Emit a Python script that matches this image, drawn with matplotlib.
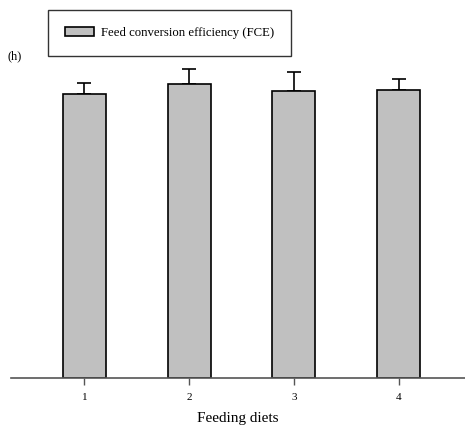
import numpy as np
import matplotlib.pyplot as plt
from matplotlib.patches import Patch

plt.rcParams['font.family'] = ['Liberation Serif', 'DejaVu Serif']

diets = [1, 2, 3, 4]
fce = [28.4, 29.4, 28.7, 28.8]
fce_err = [1.07, 1.47, 1.93, 1.13]

fig = plt.figure(figsize=(4.65, 4.32), dpi=100)
ax = fig.add_axes([11 / 465, 54 / 432, 454 / 465, 378 / 432])

ax.bar(diets, fce, width=0.41, color='#c0c0c0', edgecolor='black', linewidth=1.2,
       zorder=2)
ax.errorbar(diets, fce, yerr=[np.zeros(len(fce_err)), fce_err], fmt='none',
            ecolor='black', elinewidth=1.2, capsize=5, capthick=1.2, zorder=1)

ax.set_xlim(0.298, 4.635)
ax.set_ylim(0, 37.8)
for s in ['top', 'right', 'left']:
    ax.spines[s].set_visible(False)
ax.spines['bottom'].set_color('#555555')
ax.spines['bottom'].set_linewidth(1.2)
ax.set_yticks([])
ax.set_xticks(diets)
ax.tick_params(axis='x', direction='out', length=5, width=1, color='#555555',
               labelsize=8, pad=6)
ax.set_xlabel('Feeding diets', fontsize=11, labelpad=7)

handle = Patch(facecolor='#c0c0c0', edgecolor='black', linewidth=1.2)
leg = fig.legend([handle], ['Feed conversion efficiency (FCE)'], loc='upper left',
                 bbox_to_anchor=(48 / 465, 1 - 10 / 432), fontsize=9.2,
                 frameon=True, fancybox=False, borderpad=1.3, borderaxespad=0,
                 handlelength=2.3, handleheight=0.8, handletextpad=0.55)
leg.get_frame().set_edgecolor('black')
leg.get_frame().set_linewidth(1.0)

fig.text(7 / 465, 1 - 56 / 432, '(h)', fontsize=9, va='center', ha='left')

fig.savefig('out.png', dpi=100)
